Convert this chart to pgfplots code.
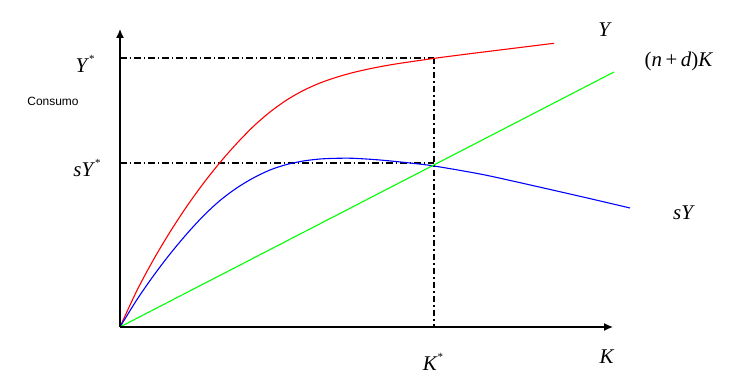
\documentclass[border=0pt]{standalone}
\usepackage{pgfplots}
\pgfplotsset{compat=1.18}
\usetikzlibrary{arrows.meta}
\usepackage{fontspec}
\newfontfamily\tnr{Liberation Serif}
\newfontfamily\arial{Liberation Sans}
\begin{document}
\begin{tikzpicture}
\begin{axis}[
  scale only axis, width=751bp, height=382bp,
  xmin=-120, xmax=631, ymin=-55, ymax=327,
  axis lines=none, clip=false,
]
\path (rel axis cs:0,0) rectangle (rel axis cs:1,1);
% dash-dot guides
\addplot[black, line width=1.1pt, dash pattern=on 6.5bp off 3bp on 1.5bp off 3bp] coordinates {(0,269) (314,269)};
\addplot[black, line width=1.1pt, dash pattern=on 6.5bp off 3bp on 1.5bp off 3bp] coordinates {(0,164) (314,164)};
\addplot[black, line width=1.1pt, dash pattern=on 6.5bp off 3bp on 1.5bp off 3bp] coordinates {(314,269) (314,0)};
% curves
\addplot[red, line width=1.1pt, smooth] coordinates {
(0,0) (16.7,36) (33.3,67) (50,95) (66.7,120.5) (83.3,143.5) (100,164.5) (116.7,183.5) (133.3,200.5) (150,215) (166.7,227) (183.3,236.5) (200,244) (216.7,249.8) (233.3,254.5) (250,258.3) (266.7,261.5) (283.3,264.2) (300,266.6) (316.7,269) (350,273.3) (400,279.5) (434,283.7)};
\addplot[blue, line width=1.1pt, smooth] coordinates {
(0,0) (16.7,27) (33.3,51) (50,73) (66.7,93) (83.3,111) (100,126.5) (116.7,139) (133.3,149) (150,157) (166.7,162.5) (183.3,166) (200,168) (216.7,168.7) (233.3,168.7) (260,167) (290,164) (314,161) (360,153) (397,145) (463,130) (510,119)};
\addplot[green, line width=1.1pt] coordinates {(0,0) (494,255)};
% axes
\addplot[black, line width=1.3pt, -{Latex[length=9bp,width=8bp]}] coordinates {(0,0) (0,298)};
\addplot[black, line width=1.3pt, -{Latex[length=9bp,width=8bp]}] coordinates {(0,0) (493,0)};
% labels
\node[font=\tnr\fontsize{21}{24}\selectfont] at (axis cs:-35,263) {\textit{Y}\raisebox{0.45em}{\fontsize{11}{11}\selectfont *}};
\node[font=\tnr\fontsize{21}{24}\selectfont] at (axis cs:-33,159) {\textit{sY}\raisebox{0.45em}{\fontsize{11}{11}\selectfont *}};
\node[font=\arial\fontsize{12}{14}\selectfont] at (axis cs:-67,226) {Consumo};
\node[font=\tnr\fontsize{21}{24}\selectfont] at (axis cs:485,297) {\textit{Y}};
\node[font=\tnr\fontsize{21}{24}\selectfont] at (axis cs:559,266) {(\textit{n}\,+\,\textit{d})\textit{K}};
\node[font=\tnr\fontsize{21}{24}\selectfont] at (axis cs:564,114) {\textit{sY}};
\node[font=\tnr\fontsize{21}{24}\selectfont] at (axis cs:487,-30) {\textit{K}};
\node[font=\tnr\fontsize{21}{24}\selectfont] at (axis cs:313,-35) {\textit{K}\raisebox{0.45em}{\fontsize{11}{11}\selectfont *}};
\end{axis}
\end{tikzpicture}
\end{document}
